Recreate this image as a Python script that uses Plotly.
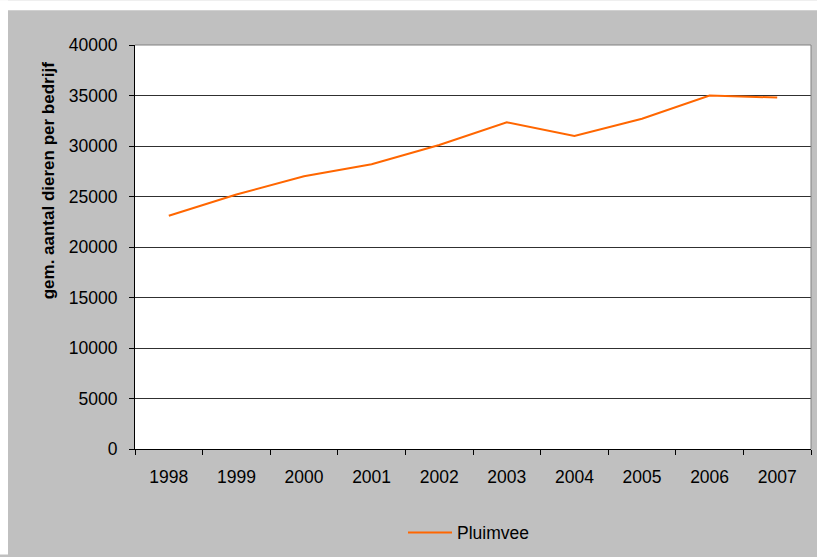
import plotly.graph_objects as go

years = ["1998", "1999", "2000", "2001", "2002", "2003", "2004", "2005", "2006", "2007"]
pluimvee = [23100, 25200, 27000, 28200, 30100, 32350, 31000, 32700, 35000, 34800]
y_ticks = [0, 5000, 10000, 15000, 20000, 25000, 30000, 35000, 40000]

FONT = "Liberation Sans, Arial, sans-serif"
FS = 17.5

fig = go.Figure()
fig.add_trace(go.Scatter(
    x=years, y=pluimvee, mode="lines", name="Pluimvee",
    line=dict(color="#ff6600", width=2),
))

W, H = 817, 557
L, R, T, B = 135, 811, 45, 451
pw, ph = R - L, B - T

def px(x):
    return (x - L) / pw

def py(y):
    return (B - y) / ph

fig.update_layout(
    width=W, height=H,
    margin=dict(l=L, r=W - R, t=T, b=H - B, pad=0),
    paper_bgcolor="#c0c0c0",
    plot_bgcolor="white",
    font=dict(family=FONT, size=FS, color="black"),
    showlegend=True,
    legend=dict(
        orientation="h", x=px(403), y=py(535), xanchor="left", yanchor="middle",
        bgcolor="rgba(0,0,0,0)", font=dict(size=FS), itemwidth=44,
    ),
    xaxis=dict(
        type="category", range=[-0.5, len(years) - 0.5],
        showgrid=False, showline=True, linecolor="black", linewidth=1,
        ticks="outside", tickson="boundaries", ticklen=5, tickcolor="black",
        ticklabelstandoff=12, zeroline=False,
    ),
    yaxis=dict(
        range=[0, 40000], tickvals=y_ticks, ticktext=[str(v) for v in y_ticks],
        showgrid=True, gridcolor="#303030", gridwidth=1,
        showline=True, linecolor="black", linewidth=1,
        ticks="outside", ticklen=5, tickcolor="black", zeroline=False,
        ticklabelstandoff=8,
    ),
    shapes=[
        dict(type="rect", xref="paper", yref="paper", x0=px(0), x1=px(8), y0=py(0), y1=py(H),
             fillcolor="white", line=dict(width=0), layer="below"),
        dict(type="rect", xref="paper", yref="paper", x0=px(0), x1=px(W), y0=py(0), y1=py(10),
             fillcolor="white", line=dict(width=0), layer="below"),
        dict(type="line", xref="paper", yref="paper", x0=0, x1=1, y0=1, y1=1,
             line=dict(color="#808080", width=1), layer="above"),
        dict(type="line", xref="paper", yref="paper", x0=1, x1=1, y0=0, y1=1,
             line=dict(color="#808080", width=1), layer="above"),
    ],
    annotations=[
        dict(text="<b>gem. aantal dieren per bedrijf</b>", xref="paper", yref="paper",
             x=px(48), y=py(182), xanchor="center", yanchor="middle", textangle=-90,
             showarrow=False, font=dict(size=17, color="black")),
    ],
)

fig.write_html(
    "out.html",
    config={"displayModeBar": False},
    post_script="document.body.style.margin='0px';document.body.style.overflow='hidden';",
)
